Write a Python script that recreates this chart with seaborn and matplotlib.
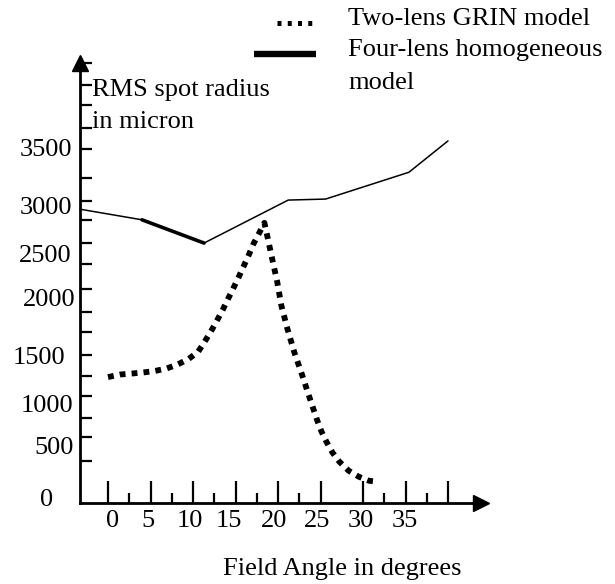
import matplotlib
matplotlib.use("Agg")
import matplotlib.pyplot as plt
import seaborn as sns
from matplotlib.lines import Line2D
from matplotlib.transforms import IdentityTransform

# ---------------- data ----------------
grin_angle = [0.0, 1.4, 2.8, 4.1, 5.5, 6.9, 8.2, 9.5, 10.6, 11.3,
              12.1, 12.8, 13.5, 14.1, 14.7, 15.3, 15.9, 16.5, 17.1, 17.7,
              18.4, 18.7, 19.3, 19.9, 20.4, 21.1, 21.9, 22.8, 23.7, 24.6,
              25.1, 25.7, 26.4, 27.2, 28.3, 29.5, 30.7, 31.2]
grin_rms = [1245, 1270, 1280, 1290, 1305, 1330, 1370, 1425, 1495, 1585,
            1695, 1800, 1910, 2015, 2115, 2220, 2330, 2440, 2560, 2655,
            2770, 2655, 2420, 2190, 1950, 1725, 1495, 1275, 1045, 820,
            710, 605, 500, 410, 320, 260, 220, 215]

homog_angle = [-3.3, 4.0, 11.3, 21.2, 25.6, 35.4, 40.0]
homog_rms = [2905, 2800, 2570, 2995, 3005, 3270, 3580]
thick_segment = slice(1, 3)

x_major_ticks = [0, 5, 10, 15, 20, 25, 30, 35, 40]
x_minor_ticks = [2.5, 7.5, 12.5, 17.5, 22.5, 32.5, 37.5]
y_tick_marks = [4350, 4130, 3935, 3710, 3500, 3215, 2990, 2800, 2575, 2365,
                2115, 1890, 1690, 1465, 1255, 1060, 840, 655, 415]

x_tick_labels = ["0", "5", "10", "15", "20", "25", "30", "35"]
y_tick_labels = ["3500", "3000", "2500", "2000", "1500", "1000", "500", "0"]

legend_labels = ["Two-lens GRIN model", "Four-lens homogeneous", "model"]
y_title = ["RMS spot radius", "in micron"]
x_title = "Field Angle in degrees"

# ---------------- layout (pixels, from top-left) ----------------
W, H = 615, 584
FS = 19
x_label_px = [113, 148, 190, 229, 274.5, 317, 360.5, 404.5]
x_label_base = 527
y_label_right = [72, 72, 72, 75, 65, 73, 74, 53]
y_label_base = [156.5, 214.5, 261.5, 306.5, 363.5, 411.5, 454.5, 505.5]

sns.set_theme(style="white")
plt.rcParams['font.family'] = ['Liberation Serif', 'DejaVu Serif']

fig = plt.figure(figsize=(W / 100, H / 100), dpi=100)
ax_left, ax_right, ax_top, ax_bot = 80, 481, 63, 503
ax = fig.add_axes([ax_left / W, 1 - ax_bot / H, (ax_right - ax_left) / W,
                   (ax_bot - ax_top) / H])
ax.set_facecolor('white')

px_per_deg = 8.5
x0_px = 108
um_per_px = 3500 / 354
ax.set_xlim((ax_left - x0_px) / px_per_deg, (ax_right - x0_px) / px_per_deg)
ax.set_ylim(0, (ax_bot - ax_top) * um_per_px)

sns.lineplot(x=homog_angle, y=homog_rms, ax=ax, color='black', linewidth=1.1,
             errorbar=None, clip_on=False)
sns.lineplot(x=homog_angle[thick_segment], y=homog_rms[thick_segment], ax=ax,
             color='black', linewidth=2.6, errorbar=None, clip_on=False)
sns.lineplot(x=grin_angle, y=grin_rms, ax=ax, color='black', linewidth=4.2,
             linestyle=(0, (1, 1.05)), errorbar=None, clip_on=False)

sns.despine(ax=ax)
for s in ('left', 'bottom'):
    ax.spines[s].set_linewidth(2.0)
    ax.spines[s].set_color('black')

ax.set_xticks(x_major_ticks)
ax.set_xticks(x_minor_ticks, minor=True)
ax.set_yticks(y_tick_marks)
ax.tick_params(axis='x', which='major', direction='in', length=15.8, width=1.6,
               color='black', labelbottom=False, bottom=True)
ax.tick_params(axis='x', which='minor', direction='in', length=7.2, width=1.6,
               color='black', bottom=True)
ax.tick_params(axis='y', which='major', direction='in', length=8.6, width=1.6,
               color='black', labelleft=False, left=True)
ax.set_xlabel("")
ax.set_ylabel("")
ax.grid(False)

# axis arrows
ax.plot(1, 0, ">", color='black', ms=12, transform=ax.transAxes, clip_on=False)
ax.plot(0, 1, "^", color='black', ms=12, transform=ax.transAxes, clip_on=False)

ident = IdentityTransform()


def put(x, y, s, **kw):
    fig.text(x, H - y, s, transform=ident, fontsize=FS, color='black', **kw)


for lab, xp in zip(x_tick_labels, x_label_px):
    put(xp, x_label_base, lab, ha='center', va='baseline')
for lab, xr, yb in zip(y_tick_labels, y_label_right, y_label_base):
    put(xr, yb, lab, ha='right', va='baseline')

put(92, 96, y_title[0], ha='left', va='baseline')
put(92, 128, y_title[1], ha='left', va='baseline')
put(223, 575, x_title, ha='left', va='baseline')

# legend
fig.add_artist(Line2D([277, 313], [H - 23, H - 23], transform=ident, color='black',
                      linewidth=3.6, linestyle=(0, (0.8, 1.25))))
fig.add_artist(Line2D([254, 316], [H - 53.5, H - 53.5], transform=ident,
                      color='black', linewidth=4.6, solid_capstyle='butt'))
put(348, 25, legend_labels[0], ha='left', va='baseline')
put(348, 56, legend_labels[1], ha='left', va='baseline')
put(348, 89, legend_labels[2], ha='left', va='baseline')

fig.savefig("out.png", dpi=100, facecolor='white')
